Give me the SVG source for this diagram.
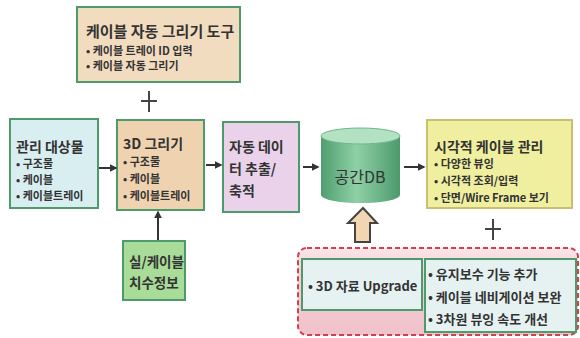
<svg xmlns="http://www.w3.org/2000/svg" width="580" height="338" viewBox="0 0 580 338">
<style>
text{font-family:"Noto Sans CJK KR","Noto Sans",sans-serif;fill:#333;font-weight:bold}
.t{font-size:14px}
.b{font-size:11px}
.box{stroke:#4d9a6c;stroke-width:2}
.arr{stroke:#333;stroke-width:2;fill:none;marker-end:url(#ah)}
.plus{stroke:#444;stroke-width:2}
</style>
<defs>
<marker id="ah" viewBox="0 0 10 10" refX="8" refY="5" markerWidth="4" markerHeight="4" orient="auto"><path d="M0,0L10,5L0,10z" fill="#333"/></marker>
<linearGradient id="cyl" x1="0" x2="1" y1="0" y2="0"><stop offset="0" stop-color="#4f9e70"/><stop offset="0.45" stop-color="#8fd0a6"/><stop offset="1" stop-color="#4c9a6c"/></linearGradient>
<linearGradient id="pk" x1="0" x2="0" y1="0" y2="1"><stop offset="0" stop-color="#fbe6ea"/><stop offset="0.25" stop-color="#f5d2d8"/><stop offset="1" stop-color="#f0c2cb"/></linearGradient>
</defs>
<rect width="580" height="338" fill="#fff"/>
<g id="tool">
<rect class="box" x="77" y="7" width="163" height="75" fill="#f2dcc0"/>
<text x="86" y="37" style="font-size:15px">케이블 자동 그리기 도구</text>
<text class="b" x="86" y="55">• 케이블 트레이 ID 입력</text>
<text class="b" x="86" y="70">• 케이블 자동 그리기</text>
</g>
<g id="target">
<rect class="box" x="10" y="119" width="88" height="89" fill="#d8eef0"/>
<text class="t" x="16" y="152">관리 대상물</text>
<text class="b" x="16" y="168">• 구조물</text>
<text class="b" x="16" y="184">• 케이블</text>
<text class="b" x="16" y="200">• 케이블트레이</text>
</g>
<g id="draw3d">
<rect class="box" x="117" y="120" width="87" height="90" fill="#efd2b0"/>
<text class="t" x="123" y="149">3D 그리기</text>
<text class="b" x="123" y="166">• 구조물</text>
<text class="b" x="123" y="183">• 케이블</text>
<text class="b" x="123" y="200">• 케이블트레이</text>
</g>
<g id="extract">
<rect class="box" x="223" y="122" width="76" height="90" fill="#ead3ea"/>
<text class="t" x="229" y="152">자동 데이</text>
<text class="t" x="229" y="174">터 추출/</text>
<text class="t" x="229" y="196">축적</text>
</g>
<g id="db">
<path d="M321,136 L321,195 A39.5,8 0 0 0 400,195 L400,136 Z" fill="url(#cyl)"/>
<ellipse cx="360.5" cy="136" rx="39.5" ry="8" fill="#b2e2c2" stroke="#6fb68a" stroke-width="1"/>
<text x="360" y="183" text-anchor="middle" style="font-size:16px;font-weight:normal">공간DB</text>
</g>
<g id="visual">
<rect class="box" x="427" y="120" width="145" height="88" fill="#efef9f" style="stroke:#c8c070"/>
<text class="t" x="434" y="152">시각적 케이블 관리</text>
<text class="b" x="434" y="168">• 다양한 뷰잉</text>
<text class="b" x="434" y="185">• 시각적 조회/입력</text>
<text class="b" x="434" y="202">• 단면/Wire Frame 보기</text>
</g>
<g id="dims">
<rect class="box" x="123" y="241" width="62" height="59" fill="#a8dc98"/>
<text x="129" y="267" style="font-size:13.5px">실/케이블</text>
<text x="129" y="288" style="font-size:13.5px">치수정보</text>
</g>
<g id="future">
<rect x="298" y="248" width="280" height="87" rx="9" fill="url(#pk)" stroke="#d2404f" stroke-width="2" stroke-dasharray="5,3"/>
<rect class="box" x="302" y="259" width="120" height="51" fill="#e6f2f2"/>
<rect class="box" x="425" y="259" width="151" height="73" fill="#e6f2f2"/>
<text x="308" y="291" style="font-size:13px">• 3D 자료 Upgrade</text>
<text x="428" y="279" style="font-size:13px">• 유지보수 기능 추가</text>
<text x="428" y="302" style="font-size:13px">• 케이블 네비게이션 보완</text>
<text x="428" y="324" style="font-size:13px">• 3차원 뷰잉 속도 개선</text>
</g>
<g id="connectors">
<line class="arr" x1="99" y1="168" x2="116" y2="168"/>
<line class="arr" x1="206" y1="165" x2="221" y2="165"/>
<line class="arr" x1="303" y1="167" x2="318" y2="167"/>
<line class="arr" x1="404" y1="167" x2="424" y2="167"/>
<line class="arr" x1="158" y1="240" x2="158" y2="212"/>
<polygon points="363,208 377,223 370,223 370,242 355,242 355,223 348,223" fill="#f2d6b2" stroke="#444" stroke-width="2" stroke-linejoin="miter"/>
<line class="plus" x1="141" y1="101" x2="157" y2="101"/>
<line class="plus" x1="149" y1="91" x2="149" y2="112"/>
<line class="plus" x1="485" y1="229" x2="501" y2="229"/>
<line class="plus" x1="493" y1="219" x2="493" y2="240"/>
</g>
</svg>
